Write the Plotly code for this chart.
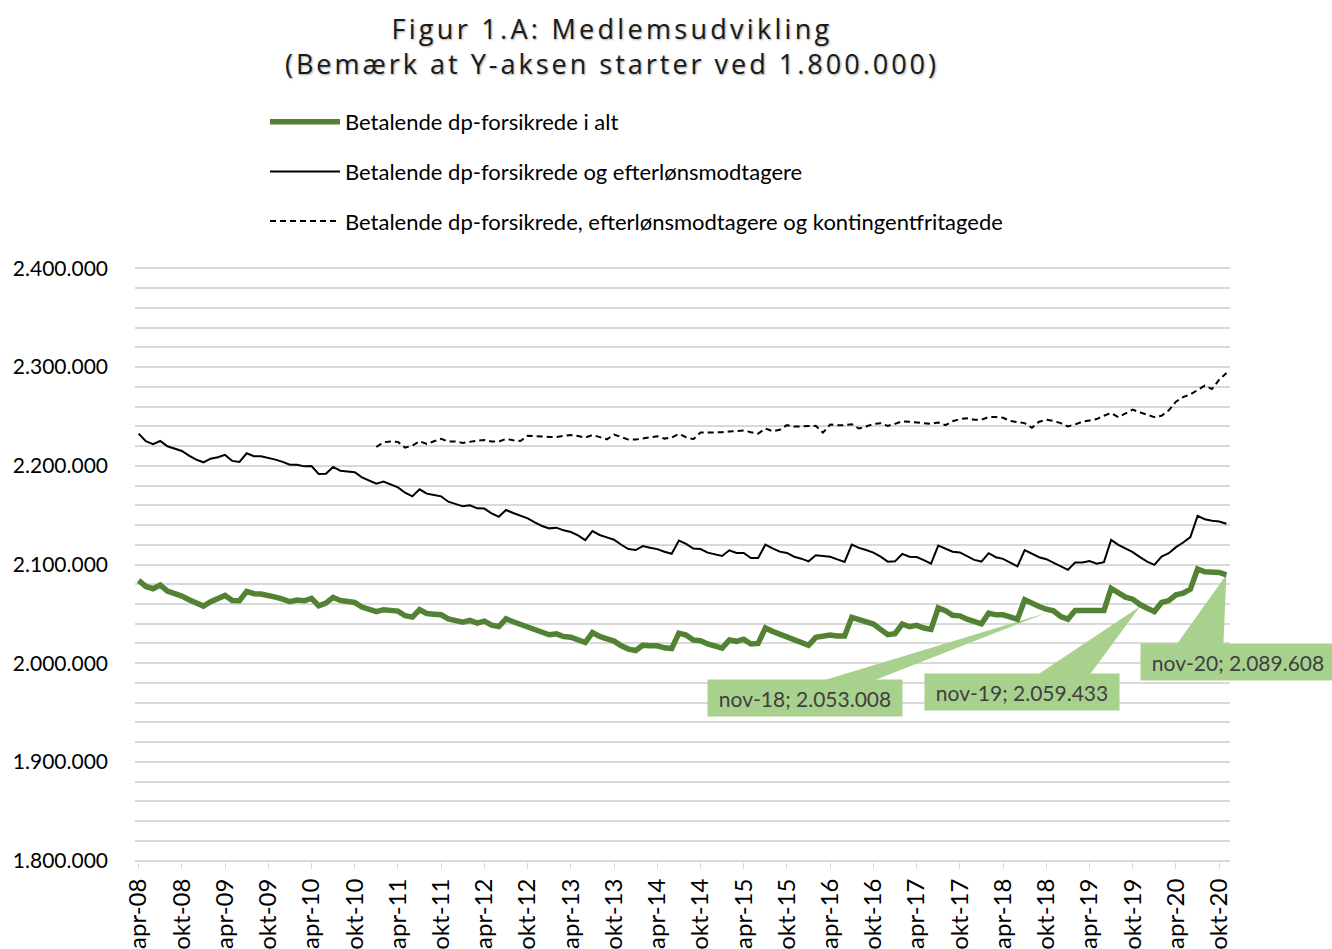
import plotly.graph_objects as go

# ---------------- data ----------------
month_abbr = ["jan", "feb", "mar", "apr", "maj", "jun", "jul", "aug", "sep", "okt", "nov", "dec"]
categories = []
for yr in range(2008, 2021):
    for m, ab in enumerate(month_abbr):
        if (yr == 2008 and m < 3) or (yr == 2020 and m > 10):
            continue
        categories.append(f"{ab}-{str(yr)[2:]}")

tick_labels = [c for c in categories if c.startswith("apr") or c.startswith("okt")]

betalende_i_alt = [
    2083900, 2077800, 2075500, 2079200, 2073100, 2070700, 2068000, 2064300, 2060600, 2057900,
    2062300, 2065000, 2068700, 2063600, 2063300, 2072800, 2070400, 2070100, 2069000, 2067000,
    2065000, 2062300, 2064000, 2063300, 2065700, 2058200, 2060900, 2066700, 2063600, 2062600,
    2061600, 2056900, 2054900, 2052200, 2054200, 2053500, 2052800, 2048100, 2046700, 2054200,
    2050400, 2049700, 2049100, 2045000, 2043000, 2041600, 2043300, 2040600, 2042600, 2038600,
    2037200, 2045000, 2042000, 2039300, 2036900, 2033800, 2031100, 2028800, 2029800, 2027100,
    2026400, 2023700, 2021000, 2031100, 2027100, 2024700, 2022400, 2017600, 2014300, 2012900,
    2018300, 2017600, 2017600, 2015600, 2014900, 2030500, 2028600, 2023500, 2022800, 2019500,
    2017400, 2015400, 2023500, 2022200, 2024200, 2019500, 2020100, 2035700, 2032300, 2029300,
    2027600, 2023500, 2021500, 2018100, 2026200, 2027600, 2028600, 2027600, 2027600, 2046500,
    2043800, 2041800, 2039700, 2034300, 2028900, 2029900, 2039700, 2037000, 2038400, 2035700,
    2034300, 2056000, 2053200, 2048500, 2048000, 2044600, 2041600, 2039900, 2050700, 2049000,
    2049000, 2046600, 2044600, 2064200, 2060100, 2057400, 2054700, 2053008, 2047300, 2044600,
    2053400, 2053400, 2054000, 2052700, 2053400, 2075700, 2070900, 2066900, 2064900, 2059433,
    2055700, 2052400, 2061500, 2063500, 2069300, 2070900, 2075000, 2095300, 2092600, 2091900,
    2091900, 2089608,
]

betalende_og_efterloen = [
    2232600, 2224800, 2221800, 2225100, 2219700, 2217000, 2215000, 2210300, 2206200, 2203500,
    2207200, 2208600, 2211000, 2204900, 2203900, 2212600, 2209600, 2209600, 2208200, 2206200,
    2203900, 2201100, 2201100, 2199400, 2199800, 2191700, 2192000, 2198800, 2195000, 2194000,
    2193400, 2188300, 2185200, 2181800, 2183900, 2180800, 2178100, 2172700, 2169000, 2176100,
    2171800, 2170400, 2169000, 2163600, 2161300, 2158900, 2159900, 2156900, 2156600, 2151800,
    2148400, 2155200, 2152200, 2149100, 2146800, 2142700, 2139000, 2136600, 2137300, 2134600,
    2132900, 2129500, 2124700, 2133900, 2129900, 2127500, 2125100, 2120000, 2115600, 2114600,
    2118700, 2117000, 2115600, 2112900, 2110900, 2124300, 2120800, 2116100, 2115700, 2112000,
    2110000, 2108600, 2114400, 2111700, 2111700, 2106600, 2106600, 2120100, 2116400, 2113000,
    2111700, 2107900, 2105900, 2103200, 2109300, 2108600, 2107900, 2105200, 2102600, 2120100,
    2116800, 2114700, 2112000, 2107900, 2102900, 2103200, 2110700, 2107900, 2107600, 2104500,
    2100900, 2119100, 2115700, 2113000, 2112200, 2108100, 2104700, 2103000, 2111500, 2107400,
    2105700, 2102000, 2098000, 2114500, 2110800, 2107400, 2105400, 2102000, 2098600, 2094600,
    2102000, 2102000, 2103400, 2100700, 2102400, 2125000, 2119900, 2115900, 2112500, 2107400,
    2103000, 2099700, 2108100, 2111500, 2117600, 2122300, 2127700, 2149300, 2145900, 2144300,
    2143600, 2141200,
]

# series starts in jan-11 (no values before)
betalende_efterloen_kontingentfri = [None] * 33 + [
    2219000, 2223800, 2224500, 2224200, 2218400, 2220400, 2224800, 2222100, 2224800, 2227200,
    2224500, 2224500, 2223100, 2224500, 2225500, 2226100, 2224500, 2224500, 2227200, 2225800,
    2225100, 2230500, 2229900, 2229200, 2229200, 2229200, 2229900, 2231200, 2230200, 2228500,
    2231200, 2229200, 2226800, 2231600, 2228900, 2226500, 2226500, 2227500, 2228500, 2229900,
    2227500, 2228500, 2232200, 2228900, 2226900, 2233600, 2233600, 2233600, 2234000, 2234700,
    2235000, 2235700, 2234000, 2232600, 2237700, 2235000, 2236400, 2241100, 2239700, 2239700,
    2239700, 2240400, 2233600, 2241800, 2241100, 2241100, 2242100, 2237700, 2239700, 2242400,
    2243100, 2240400, 2242400, 2245100, 2244500, 2243800, 2242400, 2242400, 2243800, 2241100,
    2245100, 2247300, 2248000, 2246600, 2246600, 2249300, 2249300, 2248600, 2245300, 2243900,
    2243200, 2238500, 2244600, 2246600, 2245300, 2243200, 2239900, 2241900, 2244600, 2245900,
    2247300, 2250700, 2253400, 2249300, 2253400, 2256800, 2254100, 2251700, 2249300, 2250700,
    2256100, 2264900, 2269600, 2272300, 2277000, 2281100, 2277700, 2287200, 2293900,
]

series_names = [
    "Betalende dp-forsikrede i alt",
    "Betalende dp-forsikrede og efterlønsmodtagere",
    "Betalende dp-forsikrede, efterlønsmodtagere og kontingentfritagede",
]

y_tick_values = [1800000, 1900000, 2000000, 2100000, 2200000, 2300000, 2400000]
y_tick_labels = ["1.800.000", "1.900.000", "2.000.000", "2.100.000", "2.200.000", "2.300.000", "2.400.000"]

callout_months = ["nov-18", "nov-19", "nov-20"]

title_line1 = "Figur 1.A: Medlemsudvikling"
title_line2 = "(Bemærk at Y-aksen starter ved 1.800.000)"

# ---------------- figure ----------------
GREEN = "#548235"
FONT = "Lato"

fig = go.Figure()
fig.add_trace(go.Scatter(x=categories, y=betalende_i_alt, name=series_names[0], mode="lines",
                         line=dict(color=GREEN, width=5.5), legendgroup="a"))
fig.add_trace(go.Scatter(x=categories, y=betalende_og_efterloen, name=series_names[1], mode="lines",
                         line=dict(color="black", width=2), legendgroup="b"))
fig.add_trace(go.Scatter(x=categories, y=betalende_efterloen_kontingentfri, name=series_names[2],
                         mode="lines", line=dict(color="black", width=2, dash="6px,4px"),
                         legendgroup="c", connectgaps=False))

def fmt(v):
    return f"{v:,.0f}".replace(",", ".")

# callouts
callout_offsets = {"nov-18": (-249, [(-232, -70), (-181, -70), (-7, -2)]),
                   "nov-19": (-118, [(-102, -70), (-50, -70), (0, -2)]),
                   "nov-20": (12, [(-50, -70), (-3, -70), (0, 0)])}
for m in callout_months:
    idx = categories.index(m)
    val = betalende_i_alt[idx]
    xs, wedge = callout_offsets[m]
    path = "M {},{} L {},{} L {},{} Z".format(*[c for p in wedge for c in p])
    fig.add_shape(type="path", xref="x", yref="y", xsizemode="pixel", ysizemode="pixel",
                  xanchor=m, yanchor=val, path=path,
                  fillcolor="#A9D18E", line=dict(width=0), layer="between")
    fig.add_annotation(x=m, y=val, xref="x", yref="y", showarrow=False,
                       text=f"{m}; {fmt(val)}", xshift=xs, yshift=-87,
                       bgcolor="#A9D18E", borderpad=5, width=184, height=26,
                       font=dict(family=FONT, size=21, color="#404040"))

fig.update_layout(
    width=1332, height=949,
    paper_bgcolor="white", plot_bgcolor="white",
    margin=dict(l=135, r=102, t=267, b=87, autoexpand=False),
    title=dict(
        text=(f"<span style='letter-spacing:3.3px'>{title_line1}</span><br>"
              f"<span style='letter-spacing:3px'>{title_line2}</span>"),
        x=612 / 1332, xanchor="center", xref="container",
        y=1 - 39 / 949, yanchor="middle", yref="container",
        font=dict(family="Open Sans", size=27, color="#1a1a1a",
                  shadow="1px 1px 2px rgba(0,0,0,0.35)"),
    ),
    legend=dict(
        x=(265 - 135) / 1095, xanchor="left",
        y=1 + (267 - 101) / 595, yanchor="top",
        orientation="v", tracegroupgap=18, itemwidth=70,
        font=dict(family=FONT, size=22, color="black"),
        bgcolor="rgba(0,0,0,0)",
    ),
    showlegend=True,
)

fig.update_xaxes(
    type="category", range=[-0.5, len(categories) - 0.5],
    tickmode="array", tickvals=tick_labels, ticktext=tick_labels,
    tickangle=-90, ticks="outside", ticklen=6, tickcolor="#D9D9D9",
    tickfont=dict(family=FONT, size=24, color="black"),
    showgrid=False, showline=False, zeroline=False, automargin=False,
)
fig.update_yaxes(
    range=[1798700, 2401300],
    tickmode="array", tickvals=y_tick_values, ticktext=y_tick_labels,
    tickfont=dict(family=FONT, size=21, color="black"),
    showgrid=True, gridcolor="#D9D9D9", gridwidth=1.5,
    minor=dict(dtick=20000, showgrid=True, gridcolor="#D9D9D9", gridwidth=1.5),
    zeroline=False, showline=False, ticks="", ticklabelstandoff=26, automargin=False,
)

fig.write_html("out.html", post_script="document.body.style.margin='0px';",
               config={"displayModeBar": False})
